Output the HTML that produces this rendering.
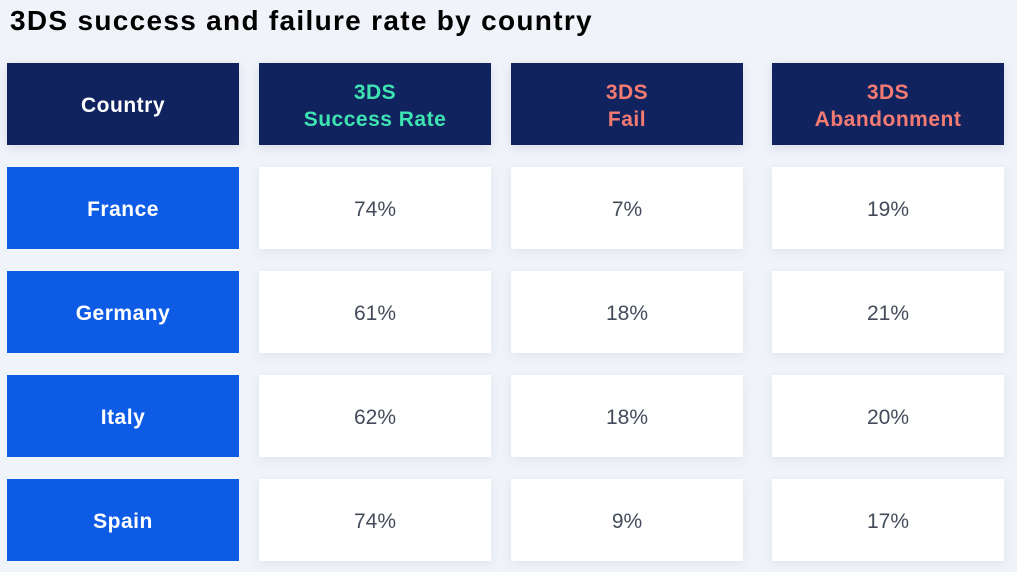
<!DOCTYPE html>
<html><head><meta charset="utf-8"><style>
body{margin:0;width:1017px;height:572px;background:#f0f3f9;font-family:"Liberation Sans",sans-serif;position:relative;overflow:hidden}
.t{position:absolute;left:10px;top:5px;font-size:28px;font-weight:bold;color:#000;letter-spacing:1.3px}
.c{position:absolute;display:flex;align-items:center;justify-content:center;text-align:center;box-sizing:border-box;padding-top:3px}
.h{background:#10235f;font-weight:bold;font-size:21px;line-height:27px;height:82px;top:63px;box-shadow:0 3px 10px rgba(40,60,120,.12);letter-spacing:0.5px}
.r{background:#fff;color:#444b5a;font-size:21px;height:82px;box-shadow:0 3px 10px rgba(40,60,120,.08)}
.n{background:#0e5ce6;color:#fff;font-weight:bold;font-size:21px;height:82px;letter-spacing:0.5px}
</style></head><body>
<div class="t">3DS success and failure rate by country</div>
<div id="tbl"></div>
<script>
const countries=["France","Germany","Italy","Spain"];
const success=[74,61,62,74];
const fail=[7,18,18,9];
const abandon=[19,21,20,17];
const colX=[7,259,511,772];
const colW=[232,232,232,232];
const rowY=[167,271,375,479];
const tbl=document.getElementById('tbl');
function cell(cls,x,y,w,html,color,name){
  const d=document.createElement('div');
  d.className='c '+cls;
  d.style.left=x+'px';d.style.width=w+'px';
  if(y!==null)d.style.top=y+'px';
  if(color)d.style.color=color;
  d.innerHTML=html;
  
  
  tbl.appendChild(d);
}
cell('h',colX[0],null,colW[0],'Country','#fff','header-country');
cell('h',colX[1],null,colW[1],'3DS<br>Success Rate','#3de3b0','header-success-rate');
cell('h',colX[2],null,colW[2],'3DS<br>Fail','#f47b72','header-fail');
cell('h',colX[3],null,colW[3],'3DS<br>Abandonment','#f47b72','header-abandonment');
countries.forEach((c,i)=>{
  const k=c.toLowerCase();
  cell('n',colX[0],rowY[i],colW[0],c,null,'country-'+k);
  cell('r',colX[1],rowY[i],colW[1],success[i]+'%',null,'success-'+k);
  cell('r',colX[2],rowY[i],colW[2],fail[i]+'%',null,'fail-'+k);
  cell('r',colX[3],rowY[i],colW[3],abandon[i]+'%',null,'abandonment-'+k);
});
</script>
</body></html>
